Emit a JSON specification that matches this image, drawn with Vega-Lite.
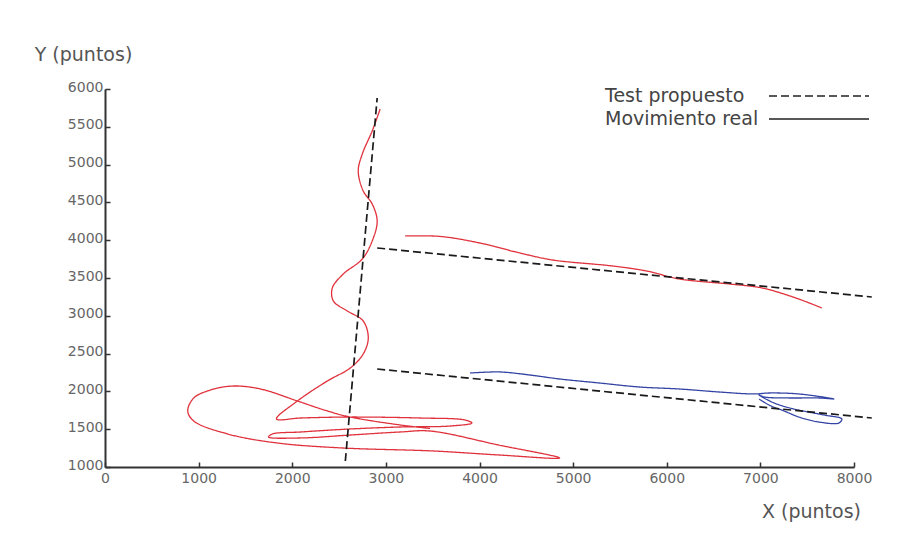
{
  "$schema": "https://vega.github.io/schema/vega-lite/v6.json",
  "width": 749,
  "height": 378,
  "autosize": {"type": "none"},
  "padding": {"left": 105, "top": 89, "right": 52, "bottom": 77},
  "background": "white",
  "config": {"view": {"stroke": null}, "font": "DejaVu Sans"},
  "data": {"values": [
    {"linea": "t1", "trazo": "Test", "tipo": "Test propuesto", "i": 0, "x": 2567, "y": 1079},
    {"linea": "t1", "trazo": "Test", "tipo": "Test propuesto", "i": 1, "x": 2907, "y": 5881},
    {"linea": "t2", "trazo": "Test", "tipo": "Test propuesto", "i": 0, "x": 2907, "y": 3897},
    {"linea": "t2", "trazo": "Test", "tipo": "Test propuesto", "i": 1, "x": 8190, "y": 3249},
    {"linea": "t3", "trazo": "Test", "tipo": "Test propuesto", "i": 0, "x": 2907, "y": 2296},
    {"linea": "t3", "trazo": "Test", "tipo": "Test propuesto", "i": 1, "x": 8190, "y": 1648},

    {"linea": "r2", "trazo": "Sujeto A", "tipo": "Movimiento real", "i": 0, "x": 3206, "y": 4056},
    {"linea": "r2", "trazo": "Sujeto A", "tipo": "Movimiento real", "i": 1, "x": 3578, "y": 4050},
    {"linea": "r2", "trazo": "Sujeto A", "tipo": "Movimiento real", "i": 2, "x": 4004, "y": 3963},
    {"linea": "r2", "trazo": "Sujeto A", "tipo": "Movimiento real", "i": 3, "x": 4430, "y": 3831},
    {"linea": "r2", "trazo": "Sujeto A", "tipo": "Movimiento real", "i": 4, "x": 4782, "y": 3738},
    {"linea": "r2", "trazo": "Sujeto A", "tipo": "Movimiento real", "i": 5, "x": 5421, "y": 3659},
    {"linea": "r2", "trazo": "Sujeto A", "tipo": "Movimiento real", "i": 6, "x": 5783, "y": 3593},
    {"linea": "r2", "trazo": "Sujeto A", "tipo": "Movimiento real", "i": 7, "x": 6134, "y": 3487},
    {"linea": "r2", "trazo": "Sujeto A", "tipo": "Movimiento real", "i": 8, "x": 6667, "y": 3421},
    {"linea": "r2", "trazo": "Sujeto A", "tipo": "Movimiento real", "i": 9, "x": 7018, "y": 3368},
    {"linea": "r2", "trazo": "Sujeto A", "tipo": "Movimiento real", "i": 10, "x": 7380, "y": 3235},
    {"linea": "r2", "trazo": "Sujeto A", "tipo": "Movimiento real", "i": 11, "x": 7657, "y": 3103},

    {"linea": "r1", "trazo": "Sujeto A", "tipo": "Movimiento real", "i": 0, "x": 2939, "y": 5736},
    {"linea": "r1", "trazo": "Sujeto A", "tipo": "Movimiento real", "i": 1, "x": 2854, "y": 5445},
    {"linea": "r1", "trazo": "Sujeto A", "tipo": "Movimiento real", "i": 2, "x": 2748, "y": 5140},
    {"linea": "r1", "trazo": "Sujeto A", "tipo": "Movimiento real", "i": 3, "x": 2705, "y": 4915},
    {"linea": "r1", "trazo": "Sujeto A", "tipo": "Movimiento real", "i": 4, "x": 2758, "y": 4651},
    {"linea": "r1", "trazo": "Sujeto A", "tipo": "Movimiento real", "i": 5, "x": 2854, "y": 4479},
    {"linea": "r1", "trazo": "Sujeto A", "tipo": "Movimiento real", "i": 6, "x": 2907, "y": 4254},
    {"linea": "r1", "trazo": "Sujeto A", "tipo": "Movimiento real", "i": 7, "x": 2854, "y": 3990},
    {"linea": "r1", "trazo": "Sujeto A", "tipo": "Movimiento real", "i": 8, "x": 2748, "y": 3751},
    {"linea": "r1", "trazo": "Sujeto A", "tipo": "Movimiento real", "i": 9, "x": 2545, "y": 3553},
    {"linea": "r1", "trazo": "Sujeto A", "tipo": "Movimiento real", "i": 10, "x": 2428, "y": 3368},
    {"linea": "r1", "trazo": "Sujeto A", "tipo": "Movimiento real", "i": 11, "x": 2439, "y": 3196},
    {"linea": "r1", "trazo": "Sujeto A", "tipo": "Movimiento real", "i": 12, "x": 2588, "y": 3064},
    {"linea": "r1", "trazo": "Sujeto A", "tipo": "Movimiento real", "i": 13, "x": 2758, "y": 2931},
    {"linea": "r1", "trazo": "Sujeto A", "tipo": "Movimiento real", "i": 14, "x": 2812, "y": 2706},
    {"linea": "r1", "trazo": "Sujeto A", "tipo": "Movimiento real", "i": 15, "x": 2758, "y": 2495},
    {"linea": "r1", "trazo": "Sujeto A", "tipo": "Movimiento real", "i": 16, "x": 2620, "y": 2310},
    {"linea": "r1", "trazo": "Sujeto A", "tipo": "Movimiento real", "i": 17, "x": 2375, "y": 2138},
    {"linea": "r1", "trazo": "Sujeto A", "tipo": "Movimiento real", "i": 18, "x": 2055, "y": 1873},
    {"linea": "r1", "trazo": "Sujeto A", "tipo": "Movimiento real", "i": 19, "x": 1832, "y": 1635},
    {"linea": "r1", "trazo": "Sujeto A", "tipo": "Movimiento real", "i": 20, "x": 2087, "y": 1648},
    {"linea": "r1", "trazo": "Sujeto A", "tipo": "Movimiento real", "i": 21, "x": 2620, "y": 1661},
    {"linea": "r1", "trazo": "Sujeto A", "tipo": "Movimiento real", "i": 22, "x": 3365, "y": 1648},
    {"linea": "r1", "trazo": "Sujeto A", "tipo": "Movimiento real", "i": 23, "x": 3845, "y": 1622},
    {"linea": "r1", "trazo": "Sujeto A", "tipo": "Movimiento real", "i": 24, "x": 3919, "y": 1582},
    {"linea": "r1", "trazo": "Sujeto A", "tipo": "Movimiento real", "i": 25, "x": 3685, "y": 1542},
    {"linea": "r1", "trazo": "Sujeto A", "tipo": "Movimiento real", "i": 26, "x": 3152, "y": 1529},
    {"linea": "r1", "trazo": "Sujeto A", "tipo": "Movimiento real", "i": 27, "x": 2620, "y": 1503},
    {"linea": "r1", "trazo": "Sujeto A", "tipo": "Movimiento real", "i": 28, "x": 2087, "y": 1463},
    {"linea": "r1", "trazo": "Sujeto A", "tipo": "Movimiento real", "i": 29, "x": 1789, "y": 1437},
    {"linea": "r1", "trazo": "Sujeto A", "tipo": "Movimiento real", "i": 30, "x": 1747, "y": 1397},
    {"linea": "r1", "trazo": "Sujeto A", "tipo": "Movimiento real", "i": 31, "x": 2087, "y": 1384},
    {"linea": "r1", "trazo": "Sujeto A", "tipo": "Movimiento real", "i": 32, "x": 2620, "y": 1423},
    {"linea": "r1", "trazo": "Sujeto A", "tipo": "Movimiento real", "i": 33, "x": 3152, "y": 1463},
    {"linea": "r1", "trazo": "Sujeto A", "tipo": "Movimiento real", "i": 34, "x": 3472, "y": 1476},
    {"linea": "r1", "trazo": "Sujeto A", "tipo": "Movimiento real", "i": 35, "x": 4207, "y": 1290},
    {"linea": "r1", "trazo": "Sujeto A", "tipo": "Movimiento real", "i": 36, "x": 4856, "y": 1119},
    {"linea": "r1", "trazo": "Sujeto A", "tipo": "Movimiento real", "i": 37, "x": 4207, "y": 1159},
    {"linea": "r1", "trazo": "Sujeto A", "tipo": "Movimiento real", "i": 38, "x": 3504, "y": 1212},
    {"linea": "r1", "trazo": "Sujeto A", "tipo": "Movimiento real", "i": 39, "x": 2545, "y": 1251},
    {"linea": "r1", "trazo": "Sujeto A", "tipo": "Movimiento real", "i": 40, "x": 1842, "y": 1317},
    {"linea": "r1", "trazo": "Sujeto A", "tipo": "Movimiento real", "i": 41, "x": 1310, "y": 1437},
    {"linea": "r1", "trazo": "Sujeto A", "tipo": "Movimiento real", "i": 42, "x": 948, "y": 1608},
    {"linea": "r1", "trazo": "Sujeto A", "tipo": "Movimiento real", "i": 43, "x": 884, "y": 1741},
    {"linea": "r1", "trazo": "Sujeto A", "tipo": "Movimiento real", "i": 44, "x": 948, "y": 1913},
    {"linea": "r1", "trazo": "Sujeto A", "tipo": "Movimiento real", "i": 45, "x": 1129, "y": 2019},
    {"linea": "r1", "trazo": "Sujeto A", "tipo": "Movimiento real", "i": 46, "x": 1363, "y": 2071},
    {"linea": "r1", "trazo": "Sujeto A", "tipo": "Movimiento real", "i": 47, "x": 1661, "y": 2032},
    {"linea": "r1", "trazo": "Sujeto A", "tipo": "Movimiento real", "i": 48, "x": 2055, "y": 1873},
    {"linea": "r1", "trazo": "Sujeto A", "tipo": "Movimiento real", "i": 49, "x": 2375, "y": 1741},
    {"linea": "r1", "trazo": "Sujeto A", "tipo": "Movimiento real", "i": 50, "x": 2620, "y": 1661},
    {"linea": "r1", "trazo": "Sujeto A", "tipo": "Movimiento real", "i": 51, "x": 3152, "y": 1556},
    {"linea": "r1", "trazo": "Sujeto A", "tipo": "Movimiento real", "i": 52, "x": 3472, "y": 1510},

    {"linea": "b1", "trazo": "Sujeto B", "tipo": "Movimiento real", "i": 0, "x": 3898, "y": 2243},
    {"linea": "b1", "trazo": "Sujeto B", "tipo": "Movimiento real", "i": 1, "x": 4217, "y": 2257},
    {"linea": "b1", "trazo": "Sujeto B", "tipo": "Movimiento real", "i": 2, "x": 4537, "y": 2217},
    {"linea": "b1", "trazo": "Sujeto B", "tipo": "Movimiento real", "i": 3, "x": 4856, "y": 2164},
    {"linea": "b1", "trazo": "Sujeto B", "tipo": "Movimiento real", "i": 4, "x": 5282, "y": 2111},
    {"linea": "b1", "trazo": "Sujeto B", "tipo": "Movimiento real", "i": 5, "x": 5708, "y": 2058},
    {"linea": "b1", "trazo": "Sujeto B", "tipo": "Movimiento real", "i": 6, "x": 6134, "y": 2032},
    {"linea": "b1", "trazo": "Sujeto B", "tipo": "Movimiento real", "i": 7, "x": 6560, "y": 1992},
    {"linea": "b1", "trazo": "Sujeto B", "tipo": "Movimiento real", "i": 8, "x": 6933, "y": 1966},
    {"linea": "b1", "trazo": "Sujeto B", "tipo": "Movimiento real", "i": 9, "x": 7093, "y": 1979},
    {"linea": "b1", "trazo": "Sujeto B", "tipo": "Movimiento real", "i": 10, "x": 7412, "y": 1966},
    {"linea": "b1", "trazo": "Sujeto B", "tipo": "Movimiento real", "i": 11, "x": 7785, "y": 1900},
    {"linea": "b1", "trazo": "Sujeto B", "tipo": "Movimiento real", "i": 12, "x": 7625, "y": 1913},
    {"linea": "b1", "trazo": "Sujeto B", "tipo": "Movimiento real", "i": 13, "x": 7306, "y": 1913},
    {"linea": "b1", "trazo": "Sujeto B", "tipo": "Movimiento real", "i": 14, "x": 7040, "y": 1926},
    {"linea": "b1", "trazo": "Sujeto B", "tipo": "Movimiento real", "i": 15, "x": 6986, "y": 1952},
    {"linea": "b1", "trazo": "Sujeto B", "tipo": "Movimiento real", "i": 16, "x": 7146, "y": 1847},
    {"linea": "b1", "trazo": "Sujeto B", "tipo": "Movimiento real", "i": 17, "x": 7359, "y": 1767},
    {"linea": "b1", "trazo": "Sujeto B", "tipo": "Movimiento real", "i": 18, "x": 7679, "y": 1688},
    {"linea": "b1", "trazo": "Sujeto B", "tipo": "Movimiento real", "i": 19, "x": 7870, "y": 1635},
    {"linea": "b1", "trazo": "Sujeto B", "tipo": "Movimiento real", "i": 20, "x": 7838, "y": 1582},
    {"linea": "b1", "trazo": "Sujeto B", "tipo": "Movimiento real", "i": 21, "x": 7625, "y": 1595},
    {"linea": "b1", "trazo": "Sujeto B", "tipo": "Movimiento real", "i": 22, "x": 7412, "y": 1661},
    {"linea": "b1", "trazo": "Sujeto B", "tipo": "Movimiento real", "i": 23, "x": 7253, "y": 1741},
    {"linea": "b1", "trazo": "Sujeto B", "tipo": "Movimiento real", "i": 24, "x": 7093, "y": 1820},
    {"linea": "b1", "trazo": "Sujeto B", "tipo": "Movimiento real", "i": 25, "x": 6986, "y": 1900}
  ]},
  "encoding": {
    "x": {
      "field": "x", "type": "quantitative",
      "scale": {"domain": [0, 8000], "nice": false, "zero": false},
      "axis": {
        "title": "X (puntos)", "values": [0, 1000, 2000, 3000, 4000, 5000, 6000, 7000, 8000],
        "format": "d", "grid": false, "tickSize": -5, "tickWidth": 1.5, "tickColor": "#333",
        "domainColor": "#333", "domainWidth": 2, "labelFontSize": 14, "labelColor": "#666",
        "labelPadding": 9, "labelFlush": false,
        "titleFontSize": 19, "titleFontWeight": "normal", "titleColor": "#555",
        "titleAnchor": null, "titleAlign": "center", "titleBaseline": "alphabetic", "titleX": 706, "titleY": 50
      }
    },
    "y": {
      "field": "y", "type": "quantitative",
      "scale": {"domain": [1000, 6000], "nice": false, "zero": false},
      "axis": {
        "title": "Y (puntos)", "values": [1000, 1500, 2000, 2500, 3000, 3500, 4000, 4500, 5000, 5500, 6000],
        "format": "d", "grid": false, "tickSize": -5, "tickWidth": 1.5, "tickColor": "#333",
        "domainColor": "#333", "domainWidth": 2, "labelFontSize": 14, "labelColor": "#666",
        "labelPadding": 7, "labelOffset": -2, "labelFlush": false,
        "titleFontSize": 19, "titleFontWeight": "normal", "titleColor": "#555", "titleAngle": 0,
        "titleAnchor": null, "titleAlign": "center", "titleBaseline": "alphabetic", "titleX": -22, "titleY": -29
      }
    },
    "detail": {"field": "linea"},
    "order": {"field": "i", "type": "quantitative"},
    "color": {
      "field": "trazo", "type": "nominal",
      "scale": {"domain": ["Test", "Sujeto A", "Sujeto B"], "range": ["#1a1a1a", "#e0323c", "#3444a4"]},
      "legend": null
    },
    "strokeDash": {
      "field": "tipo", "type": "nominal",
      "scale": {"domain": ["Test propuesto", "Movimiento real"], "range": [[8, 4], [1, 0]]},
      "legend": {
        "title": null, "orient": "none", "legendX": 703, "legendY": -4,
        "symbolType": "M-5,0H5", "symbolSize": 400, "symbolStrokeColor": "#222", "symbolStrokeWidth": 1.4,
        "symbolFillColor": "transparent",
        "labelFontSize": 19, "labelColor": "#444", "labelAlign": "left", "labelOffset": -225
      }
    }
  },
  "layer": [
    {
      "transform": [{"filter": "datum.trazo !== 'Test'"}],
      "mark": {"type": "line", "interpolate": "catmull-rom", "strokeWidth": 1.3}
    },
    {
      "transform": [{"filter": "datum.trazo === 'Test'"}],
      "mark": {"type": "line", "strokeWidth": 1.7}
    }
  ]
}
